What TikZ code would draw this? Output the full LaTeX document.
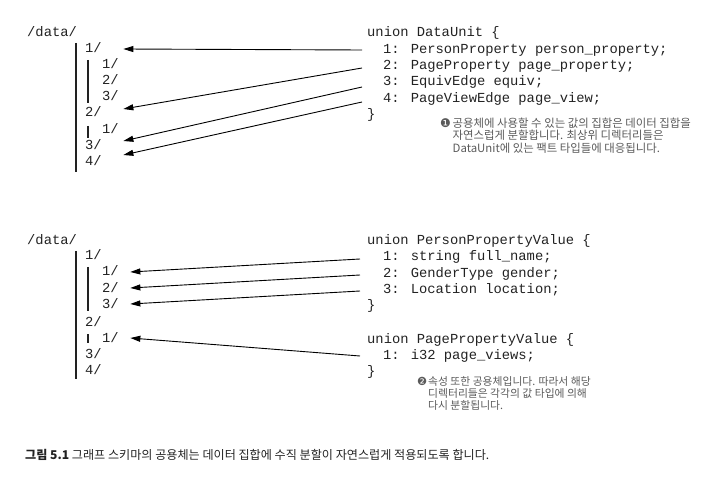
\documentclass[tikz,border=0pt]{standalone}
\usepackage{fontspec}
\usepackage{tikz}
\usepackage{xcolor}
\usetikzlibrary{arrows.meta, positioning}
\newfontfamily\codefont{Liberation Mono}
\newfontfamily\kofont{Noto Sans CJK KR}
\newfontfamily\symfont{DejaVu Sans}
\definecolor{codegray}{HTML}{222222}
\definecolor{notegray}{HTML}{5a5a5a}
\tikzset{
	%Define standard arrow tip
	>={Triangle[length=10pt,width=6pt]},
	% Define arrow style
	pil/.style={
		->,
		line width=0.9pt,
		black
	},
	code/.style={
		font=\codefont\fontsize{13.8}{16}\selectfont,
		text=codegray,
		anchor=base west,
		inner sep=0
	},
	note/.style={
		font=\kofont\fontsize{10.8}{12}\selectfont,
		text=notegray,
		align=left,
		anchor=north west,
		inner sep=0
	},
	bar/.style={
		line width=1.1pt,
		codegray
	}
}

\begin{document}
\begin{tikzpicture}[x=1pt, y=-1pt]
\useasboundingbox (0,0) rectangle (715,489);

% directories, top
\node[code] at (27,37) (d0) {/data/};
\node[code] at (85,53) (d1) {1/};
\node[code] at (102,69) (d11) {1/};
\node[code] at (102,85) (d12) {2/};
\node[code] at (102,101) (d13) {3/};
\node[code] at (85,117) (d2) {2/};
\node[code] at (102,134) (d21) {1/};
\node[code] at (85,150) (d3) {3/};
\node[code] at (85,166) (d4) {4/};

\draw[bar] (76,43) -- (76,172);
\draw[bar] (88,60) -- (88,103);
\draw[bar] (88,126) -- (88,138);

% union, top
\node[code] at (367,37) (u0) {union DataUnit \{};
\node[code] at (383,53.5) (u1) {1: PersonProperty person\_property;};
\node[code] at (383,70) (u2) {2: PageProperty page\_property;};
\node[code] at (383,86) (u3) {3: EquivEdge equiv;};
\node[code] at (383,102.5) (u4) {4: PageViewEdge page\_view;};
\node[code] at (367,119) (u5) {\}};

\node[note, font=\kofont\fontsize{11.4}{12.2}\selectfont] at (440,118) (n1) {\makebox[12.5pt][l]{\symfont\fontsize{12}{12}\selectfont ❶}공용체에 사용할 수 있는 값의 집합은 데이터 집합을\\
\hspace*{12.5pt}자연스럽게 분할합니다. 최상위 디렉터리들은\\
\hspace*{12.5pt}DataUnit에 있는 팩트 타입들에 대응됩니다.};

% directories, bottom
\node[code] at (27,244) (e0) {/data/};
\node[code] at (85,260) (e1) {1/};
\node[code] at (102,276) (e11) {1/};
\node[code] at (102,292) (e12) {2/};
\node[code] at (102,308) (e13) {3/};
\node[code] at (85,326) (e2) {2/};
\node[code] at (102,342) (e21) {1/};
\node[code] at (85,358) (e3) {3/};
\node[code] at (85,374) (e4) {4/};

\draw[bar] (76,251) -- (76,379);
\draw[bar] (88,267) -- (88,311);
\draw[bar] (88,334) -- (88,343);

% union, bottom
\node[code] at (367,244) (p0) {union PersonPropertyValue \{};
\node[code] at (383,261) (p1) {1: string full\_name;};
\node[code] at (383,277) (p2) {2: GenderType gender;};
\node[code] at (383,293) (p3) {3: Location location;};
\node[code] at (367,309) (p4) {\}};

\node[code] at (367,343) (q0) {union PagePropertyValue \{};
\node[code] at (383,359) (q1) {1: i32 page\_views;};
\node[code] at (367,375) (q2) {\}};

\node[note] at (417,376) (n2) {\makebox[11pt][l]{\symfont\fontsize{11.2}{11}\selectfont ❷}속성 또한 공용체입니다. 따라서 해당\\
\hspace*{11pt}디렉터리들은 각각의 값 타입에 의해\\
\hspace*{11pt}다시 분할됩니다.};

% arrows

\path[pil] ([xshift=-21pt,yshift=3.5pt]u1.base west) edge ([xshift=21.4pt,yshift=4pt]d1.base east);
\path[pil] ([xshift=-21pt,yshift=2pt]u2.base west) edge ([xshift=21.4pt,yshift=8pt]d2.base east);
\path[pil] ([xshift=-21pt,yshift=-1pt]u3.base west) edge ([xshift=21.4pt,yshift=9pt]d3.base east);
\path[pil] ([xshift=-21pt,yshift=0.5pt]u4.base west) edge ([xshift=21.4pt,yshift=11pt]d4.base east);

\path[pil] ([xshift=-23pt,yshift=2pt]p1.base west) edge ([xshift=11.4pt,yshift=4pt]e11.base east);
\path[pil] ([xshift=-23pt,yshift=2pt]p2.base west) edge ([xshift=11.4pt,yshift=4pt]e12.base east);
\path[pil] ([xshift=-23pt,yshift=2pt]p3.base west) edge ([xshift=11.4pt,yshift=4pt]e13.base east);
\path[pil] ([xshift=-23pt,yshift=3pt]q1.base west) edge ([xshift=11.4pt,yshift=4pt]e21.base east);

% caption
\node[anchor=west, inner sep=0, text=codegray, font=\kofont\fontsize{12.1}{14}\selectfont] at (25,455) (cap) {{\bfseries 그림 5.1} 그래프 스키마의 공용체는 데이터 집합에 수직 분할이 자연스럽게 적용되도록 합니다.};

\end{tikzpicture}
\end{document}
